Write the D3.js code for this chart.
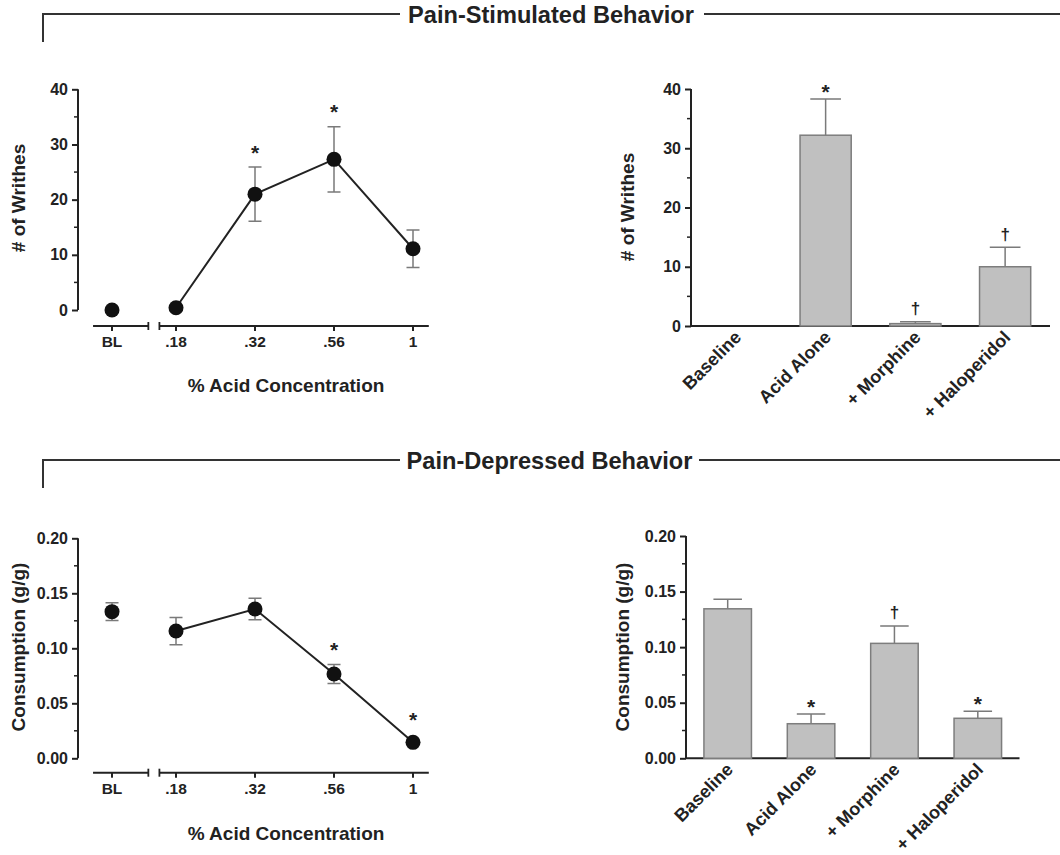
<!DOCTYPE html>
<html>
<head>
<meta charset="utf-8">
<script src="https://cdn.jsdelivr.net/npm/d3@7"></script>
<style>
  html, body { margin: 0; padding: 0; background: #fff; }
  svg { display: block; font-family: "Liberation Sans", Arial, Helvetica, sans-serif; font-weight: bold; }
</style>
</head>
<body>
<svg id="chart" width="1060" height="855"></svg>
<script>
// ---------- data ----------
const sectionTitles = ["Pain-Stimulated Behavior", "Pain-Depressed Behavior"];

const concLabels = ["BL", ".18", ".32", ".56", "1"];
const xAxisTitle = "% Acid Concentration";

const writhesMean = [0, 0.4, 21.0, 27.3, 11.1];
const writhesSEM  = [0, 0.3, 4.9, 5.9, 3.4];
const writhesMark = ["", "", "*", "*", ""];
const writhesTicks = [0, 10, 20, 30, 40];

const consMean = [0.1333, 0.1157, 0.1357, 0.0766, 0.0145];
const consSEM  = [0.0080, 0.0124, 0.0097, 0.0086, 0.0010];
const consMark = ["", "", "", "*", "*"];
const consTicks = [0, 0.05, 0.10, 0.15, 0.20];

const treatLabels = ["Baseline", "Acid Alone", "+ Morphine", "+ Haloperidol"];
const barWrithesMean = [0, 32.2, 0.4, 10.0];
const barWrithesSEM  = [0, 6.1, 0.3, 3.3];
const barWrithesMark = ["", "*", "\u2020", "\u2020"];

const barConsMean = [0.1345, 0.0311, 0.1034, 0.0360];
const barConsSEM  = [0.0085, 0.0087, 0.0156, 0.0063];
const barConsMark = ["", "*", "\u2020", "*"];

const yTitleWrithes = "# of Writhes";
const yTitleCons = "Consumption (g/g)";

// ---------- drawing ----------
const svg = d3.select("#chart");
const ink = "#222";
const errGray = "#7a7a7a";

function header(title, y, lineEndL, lineStartR, cx) {
  const g = svg.append("g");
  g.append("path")
    .attr("d", `M43,${y + 28}V${y}H${lineEndL}M${lineStartR},${y}H1060`)
    .attr("fill", "none").attr("stroke", "#333").attr("stroke-width", 2);
  g.append("text").attr("x", cx).attr("y", y + 8.5)
    .attr("text-anchor", "middle").attr("font-size", 23.6).attr("fill", ink)
    .text(title);
}
header(sectionTitles[0], 14, 400, 704, 551);
header(sectionTitles[1], 460, 400, 699, 549.5);

function symbolText(g, sym, x, cy) {
  if (!sym) return;
  const isStar = sym === "*";
  const fs = isStar ? 21 : 17;
  const off = isStar ? 0.6 * fs : 0.32 * fs;
  g.append("text").attr("x", x).attr("y", cy + off)
    .attr("text-anchor", "middle").attr("font-size", fs).attr("fill", ink)
    .text(sym);
}

function yAxisDraw(g, y, x0, ticks, fmt, minorStep) {
  const ax = d3.axisLeft(y).tickValues(ticks).tickFormat(fmt).tickSize(6).tickPadding(4);
  const ga = g.append("g").attr("transform", `translate(${x0},0)`).call(ax);
  ga.select(".domain").remove();
  ga.append("line").attr("x1", 0).attr("x2", 0)
    .attr("y1", y(ticks[ticks.length - 1])).attr("y2", y(ticks[0]))
    .attr("stroke", ink).attr("stroke-width", 2);
  ga.selectAll(".tick line").attr("stroke", ink).attr("stroke-width", 2);
  ga.selectAll(".tick text").attr("font-size", 16).attr("font-family", "Liberation Sans, Arial, sans-serif")
    .attr("font-weight", "bold").attr("fill", ink);
  const d = y.domain();
  const minors = d3.range(d[0] + minorStep, d[1], minorStep)
    .filter(v => !ticks.some(t => Math.abs(t - v) < minorStep / 10));
  ga.selectAll(".minor").data(minors).join("line")
    .attr("x1", -4).attr("x2", 0).attr("y1", v => y(v)).attr("y2", v => y(v))
    .attr("stroke", ink).attr("stroke-width", 1.5);
}

function yTitle(g, text, x, cy, fs) {
  g.append("text").attr("transform", `translate(${x},${cy}) rotate(-90)`)
    .attr("text-anchor", "middle").attr("dy", "0.35em").attr("font-size", fs).attr("fill", ink)
    .text(text);
}

function linePanel(opt) {
  const g = svg.append("g");
  const y = d3.scaleLinear().domain(opt.domain).range([opt.y0, opt.y1]);
  // concentration index scale; BL sits left of the axis break
  const xi = d3.scaleLinear().domain([0, 3]).range([176, 413]);
  const pos = [-0.81, 0, 1, 2, 3];
  const px = i => xi(pos[i]);

  yAxisDraw(g, y, 78, opt.ticks, opt.fmt, opt.minor);

  // broken x axis
  const ay = opt.axisY;
  const segs = [[xi(-1.05), xi(-0.35)], [xi(-0.21), xi(3.2)]];
  segs.forEach(([a, b], k) => {
    g.append("line").attr("x1", a).attr("x2", b).attr("y1", ay).attr("y2", ay)
      .attr("stroke", ink).attr("stroke-width", 2);
    if (k === 0) g.append("line").attr("x1", b).attr("x2", b).attr("y1", ay - 4).attr("y2", ay + 4).attr("stroke", ink).attr("stroke-width", 1.8);
    if (k === 1) g.append("line").attr("x1", a).attr("x2", a).attr("y1", ay - 4).attr("y2", ay + 4).attr("stroke", ink).attr("stroke-width", 1.8);
  });
  concLabels.forEach((lab, i) => {
    g.append("line").attr("x1", px(i)).attr("x2", px(i)).attr("y1", ay).attr("y2", ay + 5)
      .attr("stroke", ink).attr("stroke-width", 2);
    g.append("text").attr("x", px(i)).attr("y", ay + 21)
      .attr("text-anchor", "middle").attr("font-size", 15.5).attr("fill", ink).text(lab);
  });
  g.append("text").attr("x", 286).attr("y", opt.titleY)
    .attr("text-anchor", "middle").attr("font-size", 19).attr("fill", ink).text(xAxisTitle);
  yTitle(g, opt.yTitle, 18, opt.yTitleCy, 19);

  // error bars
  opt.mean.forEach((m, i) => {
    const s = opt.sem[i];
    if (y(m - s) - y(m + s) < 1) return;
    const x = px(i);
    g.append("path")
      .attr("d", `M${x},${y(m + s)}V${y(m - s)}M${x - 6.5},${y(m + s)}H${x + 6.5}M${x - 6.5},${y(m - s)}H${x + 6.5}`)
      .attr("fill", "none").attr("stroke", errGray).attr("stroke-width", 1.5);
  });
  // connecting line (concentrations only)
  const line = d3.line().x(d => px(d)).y(d => y(opt.mean[d]));
  g.append("path").attr("d", line([1, 2, 3, 4]))
    .attr("fill", "none").attr("stroke", ink).attr("stroke-width", 2);
  g.selectAll(".pt").data(opt.mean).join("circle")
    .attr("cx", (d, i) => px(i)).attr("cy", d => y(d)).attr("r", 7.5).attr("fill", "#111");
  opt.mark.forEach((sym, i) => {
    const top = Math.min(y(opt.mean[i] + opt.sem[i]), y(opt.mean[i]) - 7.5);
    symbolText(g, sym, px(i), top - 20);
  });
}

function barPanel(opt) {
  const g = svg.append("g");
  const y = d3.scaleLinear().domain(opt.domain).range([opt.y0, opt.y1]);
  const x = d3.scaleBand().domain(treatLabels).range([opt.x0, opt.x1]).paddingInner(0.43).paddingOuter(0.215);

  yAxisDraw(g, y, opt.x0, opt.ticks, opt.fmt, opt.minor);
  g.append("line").attr("x1", opt.x0).attr("x2", opt.x1).attr("y1", y(0)).attr("y2", y(0))
    .attr("stroke", ink).attr("stroke-width", 2);

  treatLabels.forEach((lab, i) => {
    const m = opt.mean[i], s = opt.sem[i];
    const bx = x(lab), bw = x.bandwidth(), cx = bx + bw / 2;
    if (m > 0) {
      if (s > 0) {
        const cw = bw * 0.3;
        g.append("path").attr("d", `M${cx},${y(m)}V${y(m + s)}M${cx - cw},${y(m + s)}H${cx + cw}`)
          .attr("fill", "none").attr("stroke", errGray).attr("stroke-width", 1.5);
      }
      g.append("rect").attr("x", bx).attr("y", y(m)).attr("width", bw).attr("height", y(0) - y(m))
        .attr("fill", "#c0c0c0").attr("stroke", "#7d7d7d").attr("stroke-width", 1.5);
    }
    symbolText(g, opt.mark[i], cx, y(m + s) - 13);
    g.append("text")
      .attr("transform", `translate(${cx + 2},${y(0) + 8}) rotate(-45)`)
      .attr("text-anchor", "end").attr("dy", "0.35em").attr("font-size", 18).attr("fill", ink)
      .text(lab);
  });
  yTitle(g, opt.yTitle, opt.yTitleX, opt.yTitleCy, 19);
}

const fmtInt = d3.format("d");
const fmt2 = d3.format(".2f");

linePanel({ domain: [0, 40], y0: 310, y1: 89.3, ticks: writhesTicks, fmt: fmtInt, minor: 5,
  axisY: 326, titleY: 392, yTitle: yTitleWrithes, yTitleCy: 198,
  mean: writhesMean, sem: writhesSEM, mark: writhesMark });

linePanel({ domain: [0, 0.2], y0: 758.3, y1: 538.3, ticks: consTicks, fmt: fmt2, minor: 0.025,
  axisY: 772.7, titleY: 840, yTitle: yTitleCons, yTitleCy: 647,
  mean: consMean, sem: consSEM, mark: consMark });

barPanel({ domain: [0, 40], y0: 326, y1: 89, x0: 691, x1: 1050, ticks: writhesTicks, fmt: fmtInt, minor: 5,
  yTitle: yTitleWrithes, yTitleX: 627, yTitleCy: 207,
  mean: barWrithesMean, sem: barWrithesSEM, mark: barWrithesMark });

barPanel({ domain: [0, 0.2], y0: 758.3, y1: 536, x0: 686, x1: 1019.5, ticks: consTicks, fmt: fmt2, minor: 0.025,
  yTitle: yTitleCons, yTitleX: 622, yTitleCy: 647,
  mean: barConsMean, sem: barConsSEM, mark: barConsMark });
</script>
</body>
</html>
